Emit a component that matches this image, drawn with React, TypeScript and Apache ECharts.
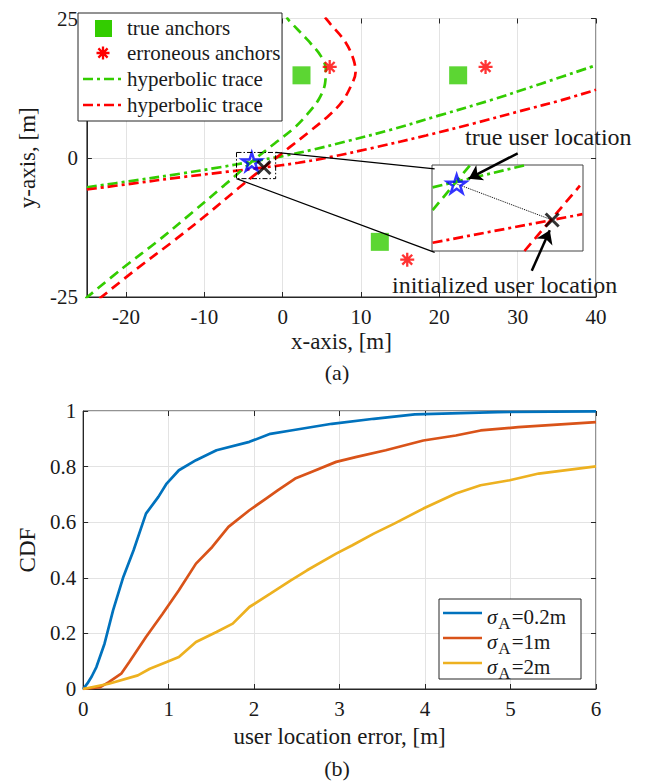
import React, { useEffect, useRef } from 'react';
import * as echarts from 'echarts';

const FONT = '"Liberation Serif", "Times New Roman", serif';
const INK = '#1a1a1a';
const AXIS = '#262626';
const GRIDC = '#e3e3e3';
const GREEN = '#33cc00';
const RED = '#ff0000';
const BLUE = '#0000ff';
const C1 = '#0072bd';
const C2 = '#d95319';
const C3 = '#edb120';

// ---------- panel (a) data ----------
const trueAnchors = [[2.4, 14.8], [22.4, 14.8], [12.4, -15.1]];
const erroneousAnchors = [[6.0, 16.3], [25.9, 16.3], [15.9, -18.3]];
const greenDashDot = [[-25, -5.3], [-19, -4.1], [-13, -2.85], [-8, -1.7], [-3.95, -0.7], [0, 0.3], [4, 1.5], [8, 2.9], [14, 5.1], [20, 7.6], [26.7, 10.4], [33, 13.3], [40, 16.6]];
const redDashDot = [[-25, -5.7], [-19, -4.6], [-13, -3.5], [-7, -2.5], [-2.4, -1.75], [2, -0.9], [6, 0.1], [11.6, 1.8], [18.3, 4.0], [24.5, 6.2], [30.9, 8.6], [35.5, 10.3], [40, 12.2]];
const greenDashed = [[-25.2, -25.3], [-20.5, -19.9], [-15.9, -14.9], [-11.7, -10.0], [-7.5, -5.0], [-3.95, -0.7], [-1.0, 2.6], [1.5, 5.4], [3.2, 7.9], [4.65, 10.6], [5.4, 13.3], [5.5, 15.9], [4.9, 18.2], [3.2, 21.1], [0.9, 24.5], [0.5, 25.2]];
const redDashed = [[-23.4, -25.3], [-18.6, -19.9], [-13.9, -14.9], [-9.6, -10.1], [-5.6, -5.4], [-2.4, -1.75], [0.9, 1.9], [3.6, 4.9], [5.9, 7.6], [7.6, 10.1], [8.75, 13.0], [9.3, 15.3], [9.05, 17.6], [8.0, 20.8], [6.1, 24.0], [5.4, 25.2]];
const userTrue = [-3.95, -0.7];
const userInit = [-2.4, -1.75];
const zoomBox = [[-5.9, 0.95], [-0.9, 0.95], [-0.9, -3.75], [-5.9, -3.75], [-5.9, 0.95]];
const connectorTop = [[-0.9, 0.95], [19.4, -2.0]];
const connectorBottom = [[-5.9, -3.75], [19.4, -17.0]];
const arrowTrue = [[30.0, 0.8], [23.75, -3.75]];
const arrowInit = [[31.8, -20.3], [34.1, -13.0]];

// inset (magnified view)
const insetXRange = [-4.35, -1.9];
const insetYRange = [-2.65, -0.15];
const insetGreenDashDot = [[-4.34, -0.8], [-2.825, -0.15]];
const insetGreenDashed = [[-4.34, -1.46], [-3.73, -0.15]];
const insetRedDashDot = [[-4.34, -2.41], [-1.91, -1.58]];
const insetRedDashed = [[-2.85, -2.65], [-1.95, -0.75]];

// ---------- panel (b) data ----------
const cdfSigma02 = [[0, 0], [0.05, 0.02], [0.1, 0.045], [0.155, 0.079], [0.25, 0.163], [0.35, 0.283], [0.47, 0.403], [0.59, 0.499], [0.735, 0.631], [0.88, 0.691], [0.977, 0.739], [1.12, 0.787], [1.32, 0.823], [1.56, 0.859], [1.945, 0.889], [2.19, 0.918], [2.43, 0.93], [2.91, 0.954], [3.4, 0.972], [3.88, 0.988], [4.85, 0.996], [6, 0.999]];
const cdfSigma1 = [[0, 0], [0.2, 0.007], [0.3, 0.025], [0.445, 0.055], [0.54, 0.097], [0.735, 0.187], [0.93, 0.271], [1.12, 0.355], [1.32, 0.451], [1.51, 0.511], [1.7, 0.583], [1.945, 0.643], [2.14, 0.685], [2.28, 0.715], [2.48, 0.757], [2.67, 0.781], [2.96, 0.817], [3.2, 0.835], [3.54, 0.859], [3.98, 0.894], [4.36, 0.912], [4.65, 0.93], [5.09, 0.942], [6, 0.96]];
const cdfSigma2 = [[0, 0], [0.3, 0.019], [0.64, 0.049], [0.78, 0.073], [0.977, 0.097], [1.12, 0.115], [1.32, 0.169], [1.56, 0.205], [1.75, 0.235], [1.945, 0.295], [2.19, 0.343], [2.43, 0.391], [2.62, 0.427], [2.96, 0.487], [3.15, 0.517], [3.4, 0.559], [3.64, 0.595], [3.98, 0.649], [4.36, 0.703], [4.65, 0.733], [4.99, 0.751], [5.33, 0.775], [6, 0.801]];
const cdfLegend = ['0.2m', '1m', '2m'];

const legendA = ['true anchors', 'erroneous anchors', 'hyperbolic trace', 'hyperbolic trace'];

const STAR = 'path://M0,-100L22.45,-30.9L95.1,-30.9L36.3,11.8L58.8,80.9L0,38.2L-58.8,80.9L-36.3,11.8L-95.1,-30.9L-22.45,-30.9Z';
const XMARK = 'path://M-10,-10L10,10M-10,10L10,-10';
const AST = 'path://M0,-10L0,10M-10,0L10,0M-7.07,-7.07L7.07,7.07M-7.07,7.07L7.07,-7.07';

echarts.graphic.registerShape(
  'asterisk',
  echarts.graphic.extendPath('M0,-6.5L0,6.5M-6.5,0L6.5,0M-4.6,-4.6L4.6,4.6M-4.6,4.6L4.6,-4.6', {})
);

const DASH = [10, 6];
const DASHDOT = [10, 4, 3, 4];
const LW = 2.7;

function mainAxis(extra: any) {
  return {
    type: 'value',
    axisLine: { show: true, onZero: false, lineStyle: { color: AXIS, width: 1 } },
    axisTick: { show: true, inside: true, length: 5, lineStyle: { color: AXIS } },
    axisLabel: { color: INK, fontFamily: FONT, fontSize: 21, margin: 9 },
    splitLine: { show: true, lineStyle: { color: GRIDC, width: 1 } },
    ...extra,
  };
}
function tickOnly(extra: any) {
  return {
    type: 'value',
    axisLine: { show: false, onZero: false },
    axisTick: { show: true, inside: true, length: 5, lineStyle: { color: AXIS } },
    axisLabel: { show: false },
    splitLine: { show: false },
    ...extra,
  };
}

export default function App() {
  const ref = useRef<HTMLDivElement>(null);
  useEffect(() => {
    if (!ref.current) return;
    const chart = echarts.init(ref.current, null, { renderer: 'svg' });

    const text = (t: string, x: number, y: number, size: number, extra: any = {}) => ({
      type: 'text', x, y, z: 20,
      style: { text: t, fontFamily: FONT, fontSize: size, fill: INK, align: 'left', verticalAlign: 'middle', ...extra },
    });

    const legendRows = [20, 45, 71, 97];
    const cdfRows = [605, 630, 655];
    const cdfColors = [C1, C2, C3];

    const graphic: any[] = [
      // inset background/border
      { type: 'rect', z: 1, shape: { x: 424, y: 157, width: 151, height: 86 }, style: { fill: '#fff', stroke: '#444', lineWidth: 1 } },
      // legend (a)
      { type: 'rect', z: 5, shape: { x: 70, y: 5, width: 204, height: 108 }, style: { fill: '#fff', stroke: AXIS, lineWidth: 1 } },
      { type: 'rect', z: 6, shape: { x: 87, y: legendRows[0] - 8, width: 17, height: 17 }, style: { fill: GREEN } },
      { type: 'asterisk', z: 6, x: 95, y: legendRows[1], style: { stroke: RED, lineWidth: 2.3, fill: 'none' } },
      { type: 'line', z: 6, shape: { x1: 75, y1: legendRows[2], x2: 116, y2: legendRows[2] }, style: { stroke: GREEN, lineWidth: LW, lineDash: DASHDOT } },
      { type: 'line', z: 6, shape: { x1: 75, y1: legendRows[3], x2: 116, y2: legendRows[3] }, style: { stroke: RED, lineWidth: LW, lineDash: DASHDOT } },
      ...legendA.map((t, i) => text(t, 119, legendRows[i], 21)),
      // annotations
      text('true user location', 457, 129, 24),
      text('initialized user location', 384, 277, 24),
      text('(a)', 329, 364, 22, { align: 'center' }),
      text('(b)', 329, 760, 22, { align: 'center' }),
      // legend (b)
      { type: 'rect', z: 5, shape: { x: 431, y: 591, width: 142, height: 80 }, style: { fill: '#fff', stroke: AXIS, lineWidth: 1 } },
      ...cdfRows.map((y, i) => ({ type: 'line', z: 6, shape: { x1: 435, y1: y, x2: 474, y2: y }, style: { stroke: cdfColors[i], lineWidth: LW } })),
      ...cdfRows.map((y, i) => ({
        type: 'text', z: 20, x: 479, y: y + 6,
        style: {
          text: `{s|σ}{a|A}{t|=${cdfLegend[i]}}`,
          fontFamily: FONT, fontSize: 21, fill: INK, align: 'left', verticalAlign: 'middle',
          rich: {
            s: { fontFamily: FONT, fontSize: 21, fontStyle: 'italic', lineHeight: 22, verticalAlign: 'top', fill: INK },
            a: { fontFamily: FONT, fontSize: 17, lineHeight: 26, padding: [0, 1, 0, 1], verticalAlign: 'bottom', fill: INK },
            t: { fontFamily: FONT, fontSize: 21, lineHeight: 22, verticalAlign: 'top', fill: INK },
          },
        },
      })),
    ];

    const lineSeries = (data: any, color: string, dash: any, xi = 0, yi = 0, width = LW, z = 2, smooth: any = 0.35) => ({
      type: 'line', data, xAxisIndex: xi, yAxisIndex: yi, showSymbol: false, symbol: 'none', smooth, z,
      lineStyle: { color, width, type: dash }, silent: true,
    });

    const starSeries = (xi: number) => ({
      type: 'scatter', data: [userTrue], xAxisIndex: xi, yAxisIndex: xi, symbol: STAR, symbolSize: 19, symbolKeepAspect: true, z: 5,
      itemStyle: { color: 'none', borderColor: BLUE, borderWidth: 2.5 }, silent: true,
    });
    const xSeries = (xi: number) => ({
      type: 'scatter', data: [userInit], xAxisIndex: xi, yAxisIndex: xi, symbol: XMARK, symbolSize: 13, symbolKeepAspect: true, z: 5,
      itemStyle: { color: 'none', borderColor: '#000', borderWidth: 3 }, silent: true,
    });

    const option: any = {
      animation: false,
      textStyle: { fontFamily: FONT },
      grid: [
        { left: 71, top: 2, width: 517, height: 287, show: true, borderColor: AXIS, borderWidth: 1, backgroundColor: 'transparent' },
        { left: 424, top: 157, width: 151, height: 86, show: false },
        { left: 74, top: 403, width: 514, height: 278, show: true, borderColor: AXIS, borderWidth: 1, backgroundColor: 'transparent' },
      ],
      xAxis: [
        mainAxis({ gridIndex: 0, min: -25, max: 40, splitNumber: 6, position: 'bottom',
          axisLabel: { color: INK, fontFamily: FONT, fontSize: 21, margin: 9, showMinLabel: false },
          name: 'x-axis, [m]', nameLocation: 'middle', nameGap: 33,
          nameTextStyle: { color: INK, fontFamily: FONT, fontSize: 23 } }),
        tickOnly({ gridIndex: 0, min: -25, max: 40, splitNumber: 6, position: 'top' }),
        { type: 'value', gridIndex: 1, min: insetXRange[0], max: insetXRange[1], show: false },
        mainAxis({ gridIndex: 2, min: 0, max: 6, interval: 1, position: 'bottom',
          name: 'user location error, [m]', nameLocation: 'middle', nameGap: 36,
          nameTextStyle: { color: INK, fontFamily: FONT, fontSize: 23 } }),
        tickOnly({ gridIndex: 2, min: 0, max: 6, interval: 1, position: 'top' }),
      ],
      yAxis: [
        mainAxis({ gridIndex: 0, min: -25, max: 25, interval: 25, position: 'left',
          axisLabel: { color: INK, fontFamily: FONT, fontSize: 21, margin: 9 },
          name: 'y-axis, [m]', nameLocation: 'middle', nameGap: 38,
          nameTextStyle: { color: INK, fontFamily: FONT, fontSize: 23 } }),
        tickOnly({ gridIndex: 0, min: -25, max: 25, interval: 25, position: 'right' }),
        { type: 'value', gridIndex: 1, min: insetYRange[0], max: insetYRange[1], show: false },
        mainAxis({ gridIndex: 2, min: 0, max: 1, interval: 0.2, position: 'left',
          axisLabel: { color: INK, fontFamily: FONT, fontSize: 21, margin: 7 },
          name: 'CDF', nameLocation: 'middle', nameGap: 41,
          nameTextStyle: { color: INK, fontFamily: FONT, fontSize: 23 } }),
        tickOnly({ gridIndex: 2, min: 0, max: 1, interval: 0.2, position: 'right' }),
      ],
      series: [
        // panel (a) traces
        lineSeries(greenDashDot, GREEN, DASHDOT),
        lineSeries(redDashDot, RED, DASHDOT),
        lineSeries(greenDashed, GREEN, DASH),
        lineSeries(redDashed, RED, DASH),
        {
          type: 'scatter', data: trueAnchors, xAxisIndex: 0, yAxisIndex: 0, symbol: 'rect', symbolSize: 18, z: 4,
          itemStyle: { color: GREEN }, silent: true,
        },
        {
          type: 'scatter', data: erroneousAnchors, xAxisIndex: 0, yAxisIndex: 0, symbol: AST, symbolSize: 14, symbolKeepAspect: true, z: 4,
          itemStyle: { color: 'none', borderColor: RED, borderWidth: 2.3 }, silent: true,
        },
        starSeries(0),
        xSeries(0),
        lineSeries(zoomBox, '#000', [5, 2, 1.5, 2], 0, 0, 1, 6, false),
        lineSeries(connectorTop, '#000', 'solid', 0, 0, 1.3, 6, false),
        lineSeries(connectorBottom, '#000', 'solid', 0, 0, 1.3, 6, false),
        // inset
        lineSeries(insetGreenDashDot, GREEN, DASHDOT, 2, 2, LW, 3, false),
        lineSeries(insetGreenDashed, GREEN, DASH, 2, 2, LW, 3, false),
        lineSeries(insetRedDashDot, RED, DASHDOT, 2, 2, LW, 3, false),
        lineSeries(insetRedDashed, RED, DASH, 2, 2, LW, 3, false),
        lineSeries([userTrue, userInit], '#000', 'dotted', 2, 2, 1, 3, false),
        starSeries(2),
        xSeries(2),
        // arrows
        {
          type: 'lines', coordinateSystem: 'cartesian2d', xAxisIndex: 0, yAxisIndex: 0, z: 10, silent: true,
          symbol: ['none', 'arrow'], symbolSize: 13,
          lineStyle: { color: '#000', width: 2.5, opacity: 1, curveness: 0 },
          data: [{ coords: arrowTrue }, { coords: arrowInit }],
        },
        // panel (b)
        lineSeries(cdfSigma02, C1, 'solid', 3, 3, LW, 2, false),
        lineSeries(cdfSigma1, C2, 'solid', 3, 3, LW, 2, false),
        lineSeries(cdfSigma2, C3, 'solid', 3, 3, LW, 2, false),
      ],
      graphic,
    };

    chart.setOption(option);
    return () => chart.dispose();
  }, []);
  return <div ref={ref} style={{ position: 'absolute', left: 8, top: 8, width: 633, height: 776 }} />;
}
